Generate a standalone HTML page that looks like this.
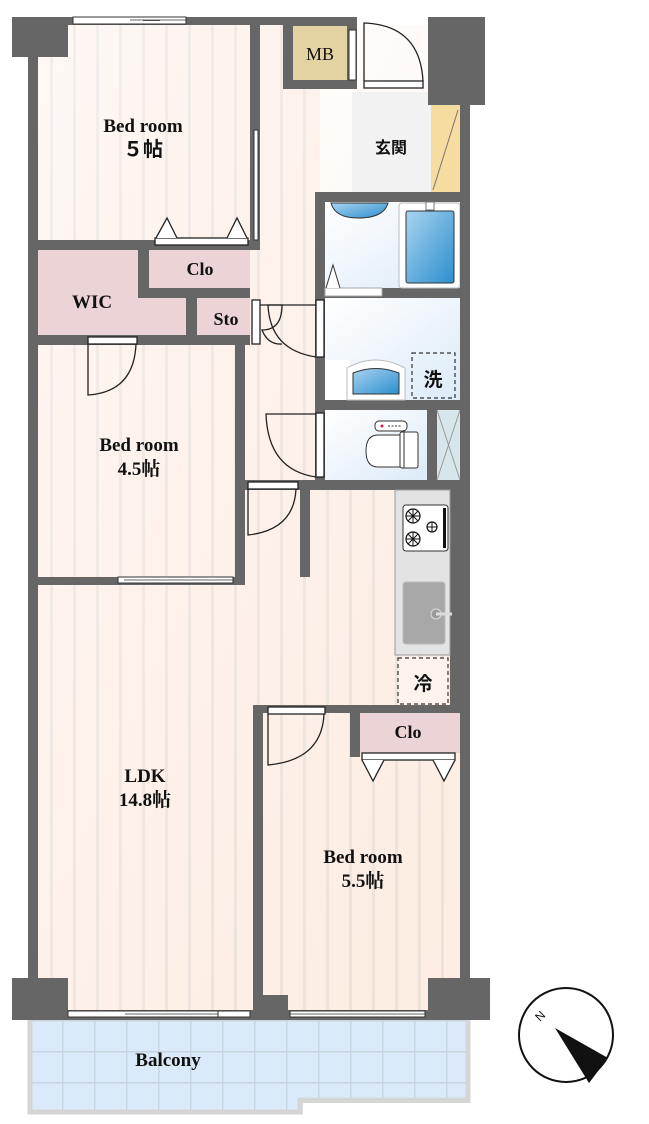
<!DOCTYPE html>
<html><head><meta charset="utf-8"><style>
html,body{margin:0;padding:0;background:#fff}
svg{display:block}
text{font-family:"Liberation Serif","Noto Serif CJK SC",serif;font-weight:bold;fill:#111}
.j{font-family:"Liberation Sans","Noto Sans CJK JP",sans-serif}
</style></head><body>
<svg width="649" height="1124" viewBox="0 0 649 1124" xmlns="http://www.w3.org/2000/svg">
<defs>
<pattern id="wood" x="4" width="23" height="20" patternUnits="userSpaceOnUse">
<rect width="23" height="20" fill="#fdf0e8"/>
<rect x="0" width="3" height="20" fill="#e6dfda"/>
</pattern>
<linearGradient id="fade" x1="0" y1="0" x2="1" y2="1">
<stop offset="0" stop-color="#fff" stop-opacity="0.5"/><stop offset="1" stop-color="#fde6d8" stop-opacity="0.3"/>
</linearGradient>
<linearGradient id="bath" x1="0" y1="0" x2="1" y2="1">
<stop offset="0" stop-color="#fff"/><stop offset="1" stop-color="#dcebf8"/>
</linearGradient>
<linearGradient id="blue" x1="0" y1="0" x2="1" y2="1">
<stop offset="0" stop-color="#a9d3f0"/><stop offset="1" stop-color="#2b8fcf"/>
</linearGradient>
<pattern id="tile" x="30" y="1020" width="32" height="31" patternUnits="userSpaceOnUse">
<rect width="32" height="31" fill="#dbeafa"/>
<path d="M0 0H32M0 0V31" stroke="#c8d4df" stroke-width="3"/>
</pattern>
</defs>

<!-- floors -->
<rect x="38" y="25" width="222" height="985" fill="url(#wood)"/>
<rect x="245" y="25" width="75" height="470" fill="url(#wood)"/>
<rect x="245" y="490" width="215" height="520" fill="url(#wood)"/>
<rect x="38" y="25" width="422" height="985" fill="url(#fade)"/>
<rect x="352" y="92" width="80" height="100" fill="#f2f2f2"/>
<rect x="431" y="105" width="29" height="87" fill="#f7dca0"/>
<line x1="433" y1="190" x2="458" y2="110" stroke="#777" stroke-width="1"/>

<!-- balcony -->
<rect x="30" y="1020" width="438" height="92" fill="url(#tile)"/>
<path d="M30 1020V1112H300V1103H468V1020" fill="none" stroke="#d5d5d5" stroke-width="5"/>
<rect x="303" y="1103" width="170" height="12" fill="#fff"/>
<path d="M300 1112V1100H468" fill="none" stroke="#d5d5d5" stroke-width="5"/>
<text x="168" y="1066" font-size="19" text-anchor="middle">Balcony</text>

<!-- pink storage -->
<rect x="38" y="250" width="110" height="85" fill="#ecd3d5"/>
<rect x="148" y="288" width="38" height="47" fill="#ecd3d5"/>
<rect x="149" y="250" width="101" height="38" fill="#ecd3d5"/>
<rect x="197" y="298" width="53" height="37" fill="#ecd3d5"/>
<rect x="360" y="713" width="100" height="40" fill="#ecd3d5"/>

<!-- wet area -->
<rect x="315" y="192" width="155" height="298" fill="#666"/>
<rect x="325" y="202" width="135" height="86" fill="url(#bath)"/>
<rect x="325" y="298" width="135" height="102" fill="url(#bath)"/>
<rect x="325" y="410" width="102" height="70" fill="url(#bath)"/>
<rect x="437" y="410" width="23" height="70" fill="#d7e6ea"/>
<path d="M437 410L460 480M460 410L437 480" stroke="#999" stroke-width="1"/>
<rect x="399" y="203" width="61" height="85" rx="3" fill="#fff" stroke="#bbb"/>
<rect x="406" y="211" width="48" height="72" rx="2" fill="url(#blue)" stroke="#333"/>
<rect x="426" y="202" width="8" height="8" fill="#fff" stroke="#777"/>
<path d="M331 203Q335 218 358 218Q384 218 388 203Z" fill="url(#blue)" stroke="#333"/>
<rect x="325" y="288" width="57" height="8" fill="#fff" stroke="#aaa"/>
<path d="M326 288L333 265L340 288" fill="#fff" stroke="#333"/>
<rect x="325" y="360" width="25" height="40" fill="#fff"/>
<path d="M347 400V368Q375 352 405 368V400Z" fill="#fff" stroke="#bbb"/>
<path d="M353 394V373Q376 364 399 373V394Z" fill="url(#blue)" stroke="#333"/>
<rect x="412" y="353" width="43" height="45" fill="none" stroke="#333" stroke-width="1.2" stroke-dasharray="4,3"/>
<text x="433" y="386" font-size="19" text-anchor="middle" class="j">洗</text>
<rect x="375" y="421" width="32" height="10" rx="4" fill="#fff" stroke="#333"/>
<circle cx="382" cy="426" r="1.5" fill="#d02050"/>
<path d="M388 426h14" stroke="#999" stroke-width="2" stroke-dasharray="2,1.5"/>
<rect x="400" y="432" width="18" height="36" rx="2" fill="#fff" stroke="#333"/>
<path d="M400 435H378Q366 435 366 451Q366 467 378 467H400Z" fill="#fff" stroke="#333"/>
<line x1="404" y1="430" x2="404" y2="468" stroke="#333"/>

<!-- walls -->
<g fill="#666">
<rect x="12" y="17" width="345" height="8"/>
<rect x="12" y="17" width="56" height="40"/>
<rect x="28" y="17" width="10" height="1000"/>
<rect x="250" y="17" width="10" height="228"/>
<rect x="283" y="17" width="74" height="72"/>
<rect x="428" y="17" width="57" height="88"/>
<rect x="460" y="100" width="10" height="890"/>
<rect x="450" y="490" width="20" height="215"/>
<rect x="28" y="240" width="232" height="10"/>
<rect x="138" y="250" width="11" height="40"/>
<rect x="138" y="288" width="112" height="10"/>
<rect x="186" y="288" width="11" height="50"/>
<rect x="28" y="335" width="222" height="10"/>
<rect x="235" y="335" width="10" height="250"/>
<rect x="28" y="577" width="217" height="8"/>
<rect x="245" y="480" width="225" height="10"/>
<rect x="300" y="490" width="10" height="87"/>
<rect x="253" y="705" width="217" height="8"/>
<rect x="253" y="705" width="10" height="305"/>
<rect x="350" y="713" width="10" height="44"/>
<rect x="12" y="978" width="56" height="42"/>
<rect x="253" y="995" width="35" height="25"/>
<rect x="428" y="978" width="62" height="42"/>
<rect x="28" y="1010" width="440" height="10"/>
</g>
<rect x="293" y="26" width="54" height="54" fill="#e3d3a2"/>
<text x="320" y="60" font-size="18" text-anchor="middle" style="font-weight:normal">MB</text>
<rect x="349" y="30" width="7" height="50" fill="#fff" stroke="#333"/>

<!-- windows -->
<g fill="#fff" stroke="#333" stroke-width="1">
<rect x="73" y="17" width="113" height="7"/>
<rect x="118" y="577" width="115" height="6"/>
<rect x="68" y="1011" width="150" height="6"/>
<rect x="218" y="1011" width="32" height="6"/>
<rect x="290" y="1011" width="135" height="6"/>
<rect x="254" y="130" width="4" height="110"/>
</g>
<path d="M130 20H186M160 20.5H143M124 580H233M125 1014H218M290 1014H425" stroke="#333" stroke-width="0.8"/>

<!-- doors -->
<g fill="none" stroke="#222" stroke-width="1.3">
<rect x="364" y="81" width="59" height="7" fill="#fff"/>
<path d="M364 81V23Q420 25 423 81"/>
<rect x="88" y="337" width="49" height="7" fill="#fff"/>
<path d="M88 344V395Q134 392 136 344"/>
<rect x="248" y="482" width="50" height="7" fill="#fff"/>
<path d="M248 489V535Q294 530 296 489"/>
<rect x="268" y="707" width="57" height="7" fill="#fff"/>
<path d="M268 714V765Q322 760 324 714"/>
<rect x="316" y="413" width="8" height="64" fill="#fff"/>
<path d="M316 414H266Q268 470 316 477"/>
<rect x="316" y="300" width="8" height="57" fill="#fff"/>
<path d="M316 305H268Q270 350 316 357"/>
<rect x="252" y="300" width="8" height="44" fill="#fff"/>
<path d="M260 305H282Q282 330 262 330Q268 345 282 344"/>
<rect x="155" y="238" width="93" height="7" fill="#fff"/>
<path d="M156 238L167 218L177 238M227 238L237 218L247 238" fill="#fff"/>
<rect x="362" y="753" width="93" height="7" fill="#fff"/>
<path d="M362 760L373 781L384 760M433 760L444 781L455 760" fill="#fff"/>
</g>

<!-- kitchen -->
<rect x="395" y="490" width="55" height="165" fill="#e3e3e3" stroke="#999"/>
<rect x="403" y="505" width="45" height="46" rx="3" fill="#fff" stroke="#333"/>
<rect x="443" y="508" width="3" height="40" fill="#111"/>
<g fill="#fff" stroke="#111" stroke-width="1.2">
<circle cx="413" cy="516" r="7"/><circle cx="413" cy="539" r="7"/><circle cx="432" cy="527" r="5"/>
</g>
<path d="M406 516h14M413 509v14M408 511l10 10M418 511l-10 10M406 539h14M413 532v14M408 534l10 10M418 534l-10 10M427 527h10M432 522v10" stroke="#111" stroke-width="1"/>
<rect x="403" y="582" width="42" height="62" rx="3" fill="#a8a8a8" stroke="#bbb"/>
<circle cx="436" cy="614" r="5" fill="#999" stroke="#ddd"/>
<path d="M436 614h16" stroke="#ddd" stroke-width="3"/>
<rect x="398" y="658" width="50" height="46" fill="#fdf3ec" stroke="#333" stroke-width="1.2" stroke-dasharray="4,3"/>
<text x="423" y="690" font-size="19" text-anchor="middle" class="j">冷</text>

<!-- labels -->
<text x="143" y="132" font-size="19" text-anchor="middle">Bed room</text>
<text x="143" y="156" font-size="20" text-anchor="middle" class="j">５帖</text>
<text x="391" y="153" font-size="16" text-anchor="middle" class="j">玄関</text>
<text x="200" y="275" font-size="18" text-anchor="middle">Clo</text>
<text x="92" y="308" font-size="19" text-anchor="middle">WIC</text>
<text x="226" y="325" font-size="18" text-anchor="middle">Sto</text>
<text x="139" y="451" font-size="19" text-anchor="middle">Bed room</text>
<text x="139" y="475" font-size="19" text-anchor="middle">4.5帖</text>
<text x="145" y="782" font-size="19" text-anchor="middle">LDK</text>
<text x="145" y="806" font-size="19" text-anchor="middle">14.8帖</text>
<text x="408" y="738" font-size="18" text-anchor="middle">Clo</text>
<text x="363" y="863" font-size="19" text-anchor="middle">Bed room</text>
<text x="363" y="887" font-size="19" text-anchor="middle">5.5帖</text>

<!-- compass -->
<circle cx="566" cy="1035" r="47" fill="#fff" stroke="#111" stroke-width="2"/>
<path d="M555 1028L608 1058L589 1083Z" fill="#111"/>
<text x="540" y="1022" font-size="12" transform="rotate(-45 540 1022)" class="j" style="font-weight:normal">N</text>
</svg>
</body></html>
